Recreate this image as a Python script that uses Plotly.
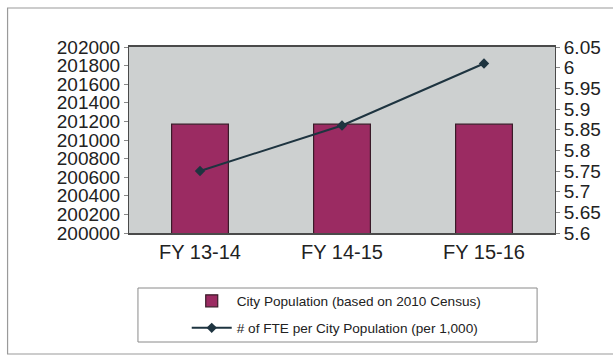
import plotly.graph_objects as go

# Fiscal years shown on the category axis
fiscal_years = ["FY 13-14", "FY 14-15", "FY 15-16"]

# City population (based on 2010 Census) - left axis
city_population = [201170, 201170, 201170]

# Number of FTE per 1,000 city population - right axis
fte_per_1000 = [5.75, 5.86, 6.01]

# Tick labels for both value axes
pop_ticks = [200000, 200200, 200400, 200600, 200800, 201000,
             201200, 201400, 201600, 201800, 202000]
pop_tick_text = ["200000", "200200", "200400", "200600", "200800", "201000",
                 "201200", "201400", "201600", "201800", "202000"]
fte_ticks = [5.6, 5.65, 5.7, 5.75, 5.8, 5.85, 5.9, 5.95, 6.0, 6.05]
fte_tick_text = ["5.6", "5.65", "5.7", "5.75", "5.8", "5.85", "5.9", "5.95", "6", "6.05"]

W, H = 613, 356
L, R, T, B = 129, 56, 47, 123
plot_w = W - L - R
plot_h = H - T - B


def px_x(p):
    return (p - L) / plot_w


def px_y(p):
    return (H - B - p) / plot_h


FONT = "Liberation Sans, Arial, sans-serif"
AXIS_COLOR = "#4a4a4a"
TICK_FONT = dict(family=FONT, size=19, color="#222222")

fig = go.Figure()

fig.add_trace(go.Bar(
    x=fiscal_years,
    y=city_population,
    name="City Population (based on 2010 Census)",
    marker=dict(color="#9b2b62", line=dict(color="#3a1a28", width=1.2)),
    width=0.4,
    yaxis="y",
    legend="legend",
))

fig.add_trace(go.Scatter(
    x=fiscal_years,
    y=fte_per_1000,
    name="# of FTE per City Population (per 1,000)",
    mode="lines+markers",
    line=dict(color="#1e3440", width=2),
    marker=dict(symbol="diamond", size=8, color="#1e3440"),
    yaxis="y2",
    legend="legend2",
))

legend_common = dict(
    orientation="v",
    xanchor="left",
    yanchor="middle",
    bgcolor="rgba(0,0,0,0)",
    borderwidth=0,
    itemwidth=40,
    font=dict(family=FONT, size=13.6, color="#222222"),
)

fig.update_layout(
    width=W,
    height=H,
    margin=dict(l=L, r=R, t=T, b=B),
    paper_bgcolor="white",
    plot_bgcolor="#cdd0d0",
    showlegend=True,
    xaxis=dict(
        showgrid=False,
        showline=True,
        linecolor=AXIS_COLOR,
        linewidth=1.5,
        mirror=True,
        ticks="",
        tickfont=dict(family=FONT, size=20, color="#222222"),
    ),
    yaxis=dict(
        range=[200000, 202000],
        tickvals=pop_ticks,
        ticktext=pop_tick_text,
        showgrid=False,
        zeroline=False,
        showline=True,
        linecolor=AXIS_COLOR,
        linewidth=1,
        ticks="outside",
        ticklen=4,
        tickcolor="#888888",
        tickfont=TICK_FONT,
    ),
    yaxis2=dict(
        range=[5.6, 6.05],
        tickvals=fte_ticks,
        ticktext=fte_tick_text,
        overlaying="y",
        side="right",
        showgrid=False,
        zeroline=False,
        showline=True,
        linecolor=AXIS_COLOR,
        linewidth=1,
        ticks="outside",
        ticklen=4,
        tickcolor="#888888",
        tickfont=TICK_FONT,
    ),
    legend=dict(x=px_x(187), y=px_y(301), **legend_common),
    legend2=dict(x=px_x(187), y=px_y(328), **legend_common),
    shapes=[
        # outer chart frame
        dict(type="rect", xref="paper", yref="paper",
             x0=px_x(7), x1=px_x(640), y0=px_y(354), y1=px_y(8),
             line=dict(color="#9a9a9a", width=1.2), layer="below"),
        # legend frame
        dict(type="rect", xref="paper", yref="paper",
             x0=px_x(138), x1=px_x(539), y0=px_y(342), y1=px_y(288),
             line=dict(color="#8a8a8a", width=1), layer="below"),
    ],
)

fig.write_html("out.html")
